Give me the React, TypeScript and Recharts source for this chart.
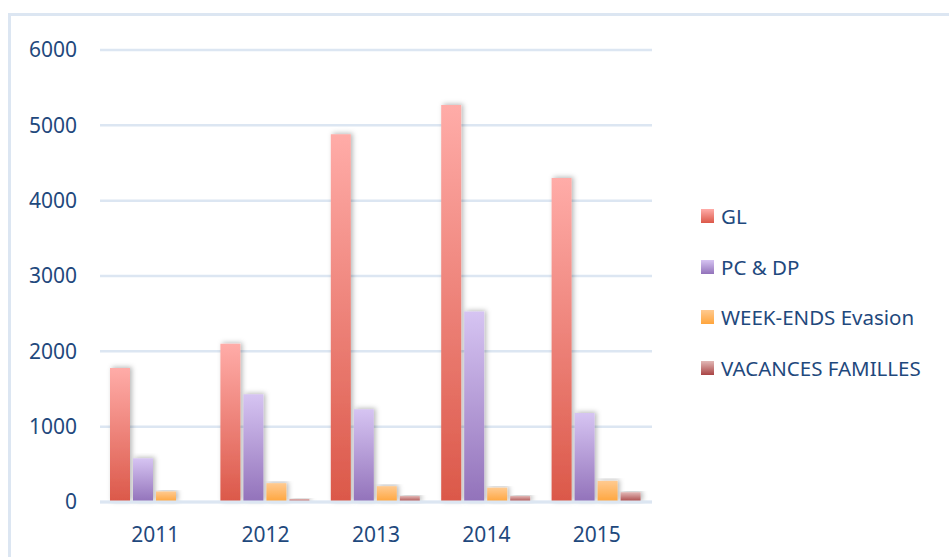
import React from 'react'
import { BarChart, Bar, XAxis, YAxis, CartesianGrid } from 'recharts'

// values
const years = ['2011', '2012', '2013', '2014', '2015']
const gl = [1780, 2100, 4880, 5270, 4300]
const pcDp = [580, 1430, 1230, 2530, 1180]
const weekEnds = [140, 250, 210, 190, 280]
const vacances = [0, 40, 80, 80, 130]
const yTicks = [0, 1000, 2000, 3000, 4000, 5000, 6000]

const series = [
  { key: 'GL', name: 'GL', id: 'gGL', top: '#ffaca8', bottom: '#db5849' },
  { key: 'PC', name: 'PC & DP', id: 'gPC', top: '#d6c4f2', bottom: '#9272ba' },
  { key: 'WE', name: 'WEEK-ENDS Evasion', id: 'gWE', top: '#ffca90', bottom: '#ffa53c' },
  { key: 'VF', name: 'VACANCES FAMILLES', id: 'gVF', top: '#e2b8b6', bottom: '#a94444' },
]

const data = years.map((year, i) => ({
  year,
  GL: gl[i],
  PC: pcDp[i],
  WE: weekEnds[i],
  VF: vacances[i],
}))

const textColor = '#1F497D'
const gridColor = '#dce6f2'
const font = '"Noto Sans", "Open Sans", sans-serif'

function LegendBox() {
  return (
    <div style={{ position: 'absolute', left: 701, top: 191, fontFamily: font, fontSize: 20.5, color: textColor }}>
      {series.map(s => (
        <div key={s.key} style={{ display: 'flex', alignItems: 'center', height: 50.5 }}>
          <div style={{ width: 13, height: 14, marginRight: 7, flexShrink: 0, background: `linear-gradient(${s.top}, ${s.bottom})` }} />
          <span style={{ whiteSpace: 'nowrap', lineHeight: '24px' }}>{s.name}</span>
        </div>
      ))}
    </div>
  )
}

export default function App() {
  return (
    <div style={{ position: 'absolute', left: 0, top: 0, width: 949, height: 557, overflow: 'hidden', background: '#fff' }}>
      <div style={{ position: 'absolute', left: 8, top: 13, width: 1000, height: 700, border: `3px solid ${gridColor}` }} />
      <div style={{ position: 'absolute', left: 0, top: 0 }}>
        <BarChart
          width={949}
          height={557}
          data={data}
          margin={{ top: 50, right: 297, bottom: 0, left: 0 }}
          barCategoryGap={10}
          barGap={3}
        >
          <defs>
            {series.map(s => (
              <linearGradient key={s.id} id={s.id} x1="0" y1="0" x2="0" y2="1">
                <stop offset="0%" stopColor={s.top} />
                <stop offset="100%" stopColor={s.bottom} />
              </linearGradient>
            ))}
            <filter id="barShadow" x="-50%" y="-10%" width="200%" height="130%">
              <feDropShadow dx="2" dy="-1" stdDeviation="2.5" floodColor="#000" floodOpacity="0.28" />
            </filter>
          </defs>
          <CartesianGrid vertical={false} stroke={gridColor} strokeWidth={2.5} />
          <XAxis
            dataKey="year"
            height={55}
            axisLine={{ stroke: gridColor, strokeWidth: 3 }}
            tickLine={false}
            tickSize={0}
            tickMargin={25}
            tick={{ fill: textColor, fontSize: 21, fontFamily: font }}
          />
          <YAxis
            width={100}
            domain={[0, 6000]}
            ticks={yTicks}
            axisLine={false}
            tickLine={false}
            tickSize={0}
            tickMargin={23}
            tick={{ fill: textColor, fontSize: 21, fontFamily: font }}
          />
          {series.map(s => (
            <Bar key={s.key} dataKey={s.key} name={s.name} fill={`url(#${s.id})`} filter="url(#barShadow)" isAnimationActive={false} />
          ))}
        </BarChart>
      </div>
      <LegendBox />
    </div>
  )
}
